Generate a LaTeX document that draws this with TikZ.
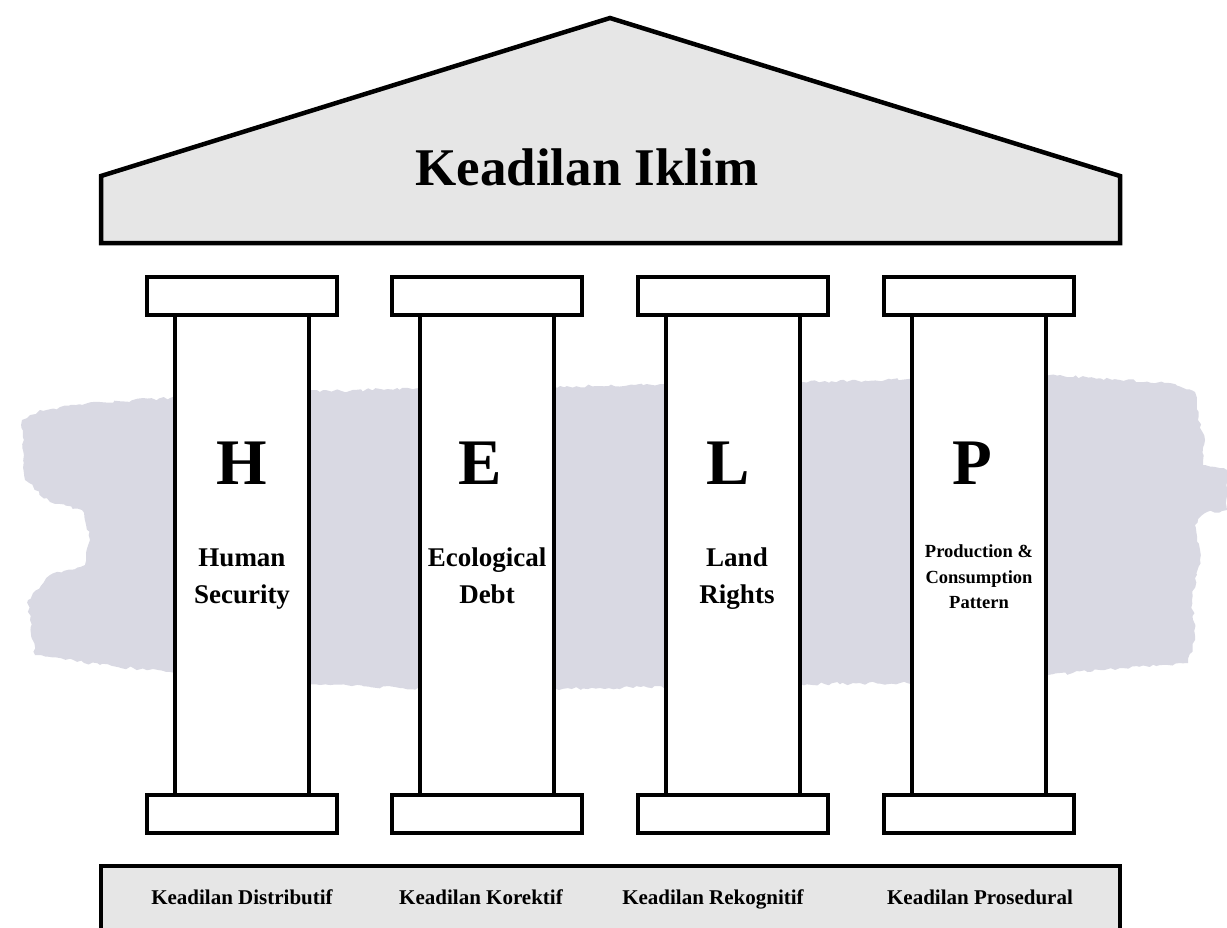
\documentclass[tikz,border=0pt]{standalone}
\usepackage{fontspec}
\setmainfont{Liberation Serif}
\usetikzlibrary{decorations.pathmorphing}
\definecolor{roofgray}{HTML}{E6E6E6}
\definecolor{brush}{HTML}{D9D9E3}
\begin{document}
\begin{tikzpicture}[x=1pt,y=-1pt,
  outline/.style={draw=black,line width=4.5pt,line join=miter},
  capbox/.style={outline,fill=white},
  shaft/.style={outline,fill=white},
  bigletter/.style={font=\fontsize{65}{70}\selectfont\bfseries,inner sep=0pt,anchor=base},
  sublabel/.style={font=\fontsize{27}{30}\selectfont\bfseries,inner sep=0pt,anchor=base},
  smalllabel/.style={font=\fontsize{18.5}{22}\selectfont\bfseries,inner sep=0pt,anchor=base},
  baselabel/.style={font=\fontsize{21}{24}\selectfont\bfseries,inner sep=0pt,anchor=base}]
\useasboundingbox (0,0) rectangle (1227,927);
% brush stroke
\fill[brush,decorate,decoration={random steps,segment length=4pt,amplitude=1.6pt}]
 (170,398) -- (300,392) -- (420,388) -- (600,386) -- (800,382) -- (1000,377) -- (1060,375)
 -- (1120,380) -- (1170,383) -- (1195,392) -- (1198,420) -- (1205,440) -- (1203,465)
 -- (1227,470) -- (1227,510) -- (1205,513) -- (1195,525) -- (1200,560) -- (1192,600)
 -- (1195,640) -- (1188,663) -- (1100,670) -- (1000,680) -- (900,683) -- (800,684)
 -- (700,686) -- (600,688) -- (500,690) -- (400,688) -- (320,685) -- (250,680)
 -- (170,672) -- (100,665) -- (35,655) -- (30,620) -- (28,600) -- (50,575) -- (85,565)
 -- (90,540) -- (82,510) -- (50,502) -- (25,480) -- (22,420) -- (40,410) -- (100,402) -- cycle;
% roof
\draw[outline,fill=roofgray] (101,176) -- (610,18) -- (1120,176) -- (1120,243) -- (101,243) -- cycle;
\node[font=\fontsize{53}{56}\selectfont\bfseries,inner sep=0pt,anchor=base] (title) at (587,185) {Keadilan Iklim};
% pillars
\foreach \cx/\n in {242/1,487/2,733/3,979/4}{
  \draw[shaft] (\cx-67,315) rectangle (\cx+67,795);
  \draw[capbox] (\cx-95,277) rectangle (\cx+95,315);
  \draw[capbox] (\cx-95,795) rectangle (\cx+95,833);
}
\node[bigletter] (H) at (242,484) {H};
\node[bigletter] (E) at (480,484) {E};
\node[bigletter] (L) at (728,484) {L};
\node[bigletter] (P) at (972,484) {P};
\node[sublabel] (hs1) at (242,566) {Human};
\node[sublabel] (hs2) at (242,603) {Security};
\node[sublabel] (ed1) at (487,566) {Ecological};
\node[sublabel] (ed2) at (487,603) {Debt};
\node[sublabel] (lr1) at (737,566) {Land};
\node[sublabel] (lr2) at (737,603) {Rights};
\node[smalllabel] (pc1) at (979,557) {Production \&};
\node[smalllabel] (pc2) at (979,583) {Consumption};
\node[smalllabel] (pc3) at (979,608) {Pattern};
% base
\draw[outline,fill=roofgray] (101,866) rectangle (1120,940);
\node[baselabel] (k1) at (242,904) {Keadilan Distributif};
\node[baselabel] (k2) at (481,904) {Keadilan Korektif};
\node[baselabel] (k3) at (713,904) {Keadilan Rekognitif};
\node[baselabel] (k4) at (980,904) {Keadilan Prosedural};
\end{tikzpicture}
\end{document}
